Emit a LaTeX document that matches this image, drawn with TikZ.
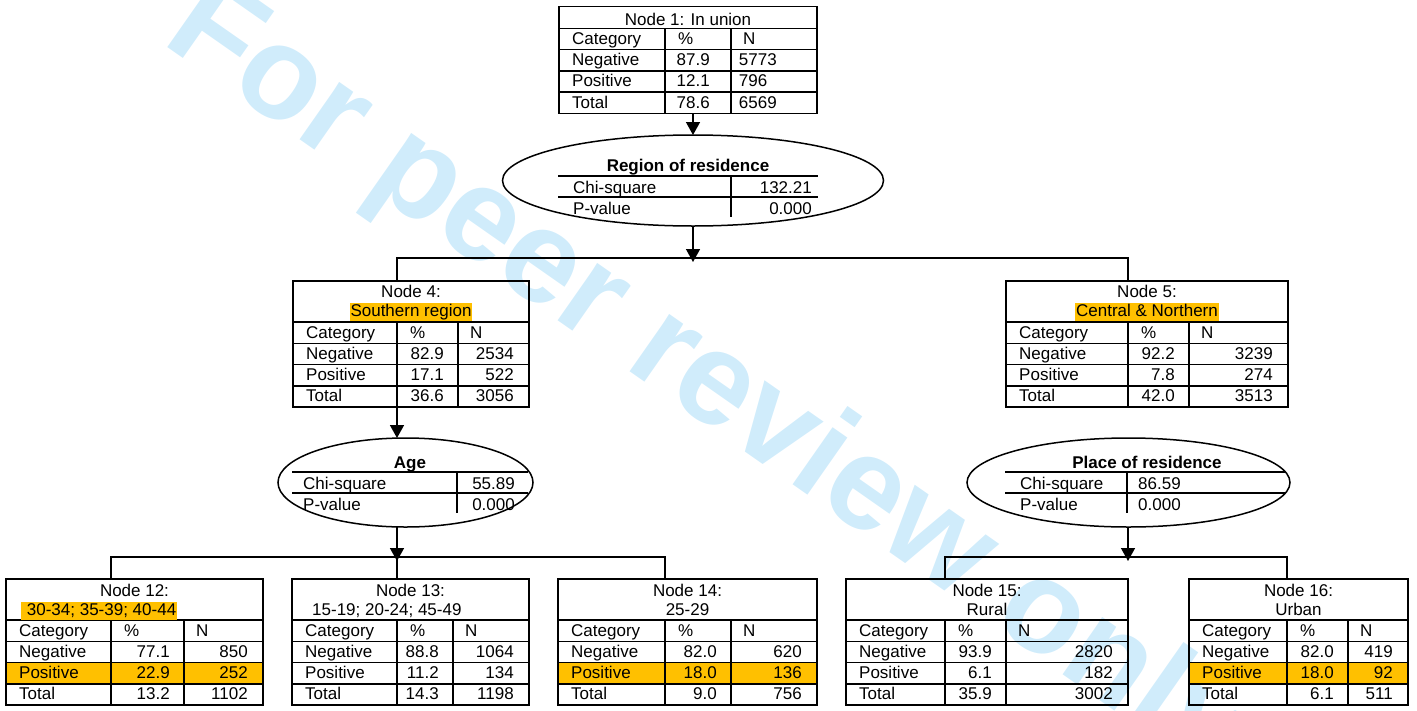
\documentclass[tikz,border=0pt]{standalone}
\usepackage{fontspec}
\setmainfont{Liberation Sans}
\usepackage{tikz}
\usetikzlibrary{arrows.meta,shapes.geometric,positioning}
\definecolor{hl}{RGB}{255,192,0}
\definecolor{wmblue}{RGB}{208,236,251}

\newcommand{\rowh}{21.25}
\newcommand{\padp}{14}
\newcommand{\padn}{15}
\newcommand{\hl}[1]{{\setlength{\fboxsep}{0pt}\colorbox{hl}{\rule[-4pt]{0pt}{18pt}\kern1pt#1\kern1pt}}}

% result table: name, x left, x div1, x div2, x right, y top, y header row, highlighted row, data
\newcommand{\restable}[9]{%
  \def\tN{#1}\def\tA{#2}\def\tC{#4}\def\tD{#5}\def\tH{#7}%
  \ifnum#8>0 \fill[hl] (#2,#7+#8*\rowh) rectangle (#5,#7+#8*\rowh+\rowh);\fi
  \node[tbl, anchor=north west, minimum width=#5-#2, minimum height=#7+4*\rowh-#6] (#1) at (#2,#6) {};
  \draw[grid] (#2,#7) -- (#5,#7);
  \foreach \k in {1,2,3} \draw[grid] (#2,#7+\k*\rowh) -- (#5,#7+\k*\rowh);
  \draw[grid] (#3,#7) -- (#3,#7+4*\rowh);
  \draw[grid] (#4,#7) -- (#4,#7+4*\rowh);
  \coordinate (#1-top) at (#3,#6);
  \coordinate (#1-bot) at (#3,#7+4*\rowh);
  \node[cell] (#1-h1) at (#2+13,#7+16) {Category};
  \node[cell] (#1-h2) at (#3+13,#7+16) {\%};
  \node[cell] (#1-h3) at (#4+12,#7+16) {N};
  \resrows#9\relax}
\def\resrows#1/#2/#3/#4/#5/#6\relax{%
  \foreach \lb/\pc/\nn [count=\k] in {Negative/#1/#2, Positive/#3/#4, Total/#5/#6} {
    \node[cell] (\tN-l\k) at (\tA+13,\tH+\k*\rowh+16) {\lb};
    \node[num] (\tN-p\k) at (\tC-\padp,\tH+\k*\rowh+16) {\pc};
    \node[num] (\tN-n\k) at (\tD-\padn,\tH+\k*\rowh+16) {\nn};
  }}

\begin{document}
\begin{tikzpicture}[x=1pt, y=-1pt, font=\fontsize{17}{19}\selectfont,
    tbl/.style={draw, line width=1.5pt, inner sep=0pt, outer sep=0pt},
    grid/.style={line width=1.5pt},
    cell/.style={anchor=base west, inner sep=0pt},
    num/.style={anchor=base east, inner sep=0pt},
    txt/.style={anchor=base, inner sep=0pt},
    split/.style={draw, ellipse, line width=1.5pt, inner sep=0pt, outer sep=0pt},
    line/.style={line width=1.5pt},
    arr/.style={line width=1.5pt, -{Triangle[width=14pt,length=13pt]}},
    wm/.style={anchor=base west, rotate=-35, inner sep=0pt, text=wmblue,
      font=\fontsize{132}{132}\selectfont\bfseries}]
\useasboundingbox (0,0) rectangle (1417,710);

% Watermark
\begin{scope}
  \clip (0,0) rectangle (1417,710);
  \node[wm] (wm) at (160,42) {For peer review only};
\end{scope}

% Root node
{\def\padp{21}\def\padn{40}
\restable{n1}{559}{665}{731}{817}{6.5}{28.3}{0}{87.9/5773/12.1/796\hphantom{0}/78.6/6569}}
\node[txt] (n1-t) at (688,25.7) {Node 1: In union};

% Split on region
\node[split, minimum width=381, minimum height=91] (r1) at (693,180.5) {};
\node[txt, font=\fontsize{17}{19}\selectfont\bfseries] (r1-t) at (688,171) {Region of residence};
\draw[line] (558,176) -- (818,176);
\draw[line] (558,197) -- (818,197);
\draw[line] (731,176) -- (731,217);
\node[cell] (r1-c) at (573,193) {Chi-square};
\node[num] (r1-cv) at (812,193) {132.21};
\node[cell] (r1-p) at (573,214) {P-value};
\node[num] (r1-pv) at (812,214) {0.000};

% Second level
\restable{n4}{293}{397}{458}{529}{281}{322}{0}{82.9/2534/17.1/522/36.6/3056}
\node[txt] (n4-t1) at (411,297.7) {Node 4:};
\node[txt] (n4-t2) at (411,316.7) {\hl{Southern region}};

\restable{n5}{1006}{1128}{1189}{1288}{281}{322}{0}{92.2/3239/7.8/274/42.0/3513}
\node[txt] (n5-t1) at (1147,297.7) {Node 5:};
\node[txt] (n5-t2) at (1147,316.7) {\hl{Central \& Northern}};

% Split on age
\node[split, minimum width=255, minimum height=89] (r2) at (405.5,482.5) {};
\node[txt, font=\fontsize{17}{19}\selectfont\bfseries] (r2-t) at (410,468.5) {Age};
\draw[line] (292,472) -- (528,472);
\draw[line] (292,493) -- (528,493);
\draw[line] (457,472) -- (457,513);
\node[cell] (r2-c) at (303,489) {Chi-square};
\node[num] (r2-cv) at (515,489) {55.89};
\node[cell] (r2-p) at (303,510) {P-value};
\node[num] (r2-pv) at (515,510) {0.000};

% Split on place
\node[split, minimum width=323, minimum height=89] (r3) at (1128.5,482.5) {};
\node[txt, font=\fontsize{17}{19}\selectfont\bfseries] (r3-t) at (1147,468.5) {Place of residence};
\draw[line] (1005,472) -- (1286,472);
\draw[line] (1005,493) -- (1286,493);
\draw[line] (1127,472) -- (1127,513);
\node[cell] (r3-c) at (1020,489) {Chi-square};
\node[cell] (r3-cv) at (1138,489) {86.59};
\node[cell] (r3-p) at (1020,510) {P-value};
\node[cell] (r3-pv) at (1138,510) {0.000};

% Terminal nodes
\restable{n12}{6}{111}{184}{263}{579}{620}{2}{77.1/850/22.9/252/13.2/1102}
\node[txt] (n12-t1) at (134.5,596.7) {Node 12:};
\node[cell] (n12-t2) at (21,615.5) {\hl{\ 30-34; 35-39; 40-44}};

\restable{n13}{292}{397}{453}{529}{579}{620}{0}{88.8/1064/11.2/134/14.3/1198}
\node[txt] (n13-t1) at (410.5,596.7) {Node 13:};
\node[cell] (n13-t2) at (312,615.5) {15-19; 20-24; 45-49};

\restable{n14}{558}{665}{731}{817}{579}{620}{2}{82.0/620/18.0/136/9.0/756}
\node[txt] (n14-t1) at (687.5,596.7) {Node 14:};
\node[txt] (n14-t2) at (687.5,615.5) {25-29};

\restable{n15}{846}{945}{1006}{1128}{579}{620}{0}{93.9/2820/6.1/182/35.9/3002}
\node[txt] (n15-t1) at (987,596.7) {Node 15:};
\node[txt] (n15-t2) at (987,615.5) {Rural};

\restable{n16}{1189}{1287}{1348}{1408}{579}{620}{2}{82.0/419/18.0/92/6.1/511}
\node[txt] (n16-t1) at (1298.5,596.7) {Node 16:};
\node[txt] (n16-t2) at (1298.5,615.5) {Urban};

% Connectors
\coordinate (j1) at (693,258);
\coordinate (j2) at (397,557);
\coordinate (j3) at (1128,557);
\draw[arr] (r1.north |- n1.south) -- (r1.north);
\draw[arr] (r1.south) -- ([yshift=-4pt]j1);
\draw[line] (n4-top) |- (j1) -| (n5-top);
\draw[arr] (n4-bot) -- (n4-bot |- r2.north);
\draw[arr] (r2.south -| j2) -- ([yshift=-4pt]j2);
\draw[line] (n12-top) |- (j2) -| (n14-top);
\draw[line] (j2) -- (n13-top);
\draw[arr] (r3.south -| j3) -- ([yshift=-4pt]j3);
\draw[line] (n15-top) |- (j3) -| (n16-top);
\end{tikzpicture}
\end{document}
